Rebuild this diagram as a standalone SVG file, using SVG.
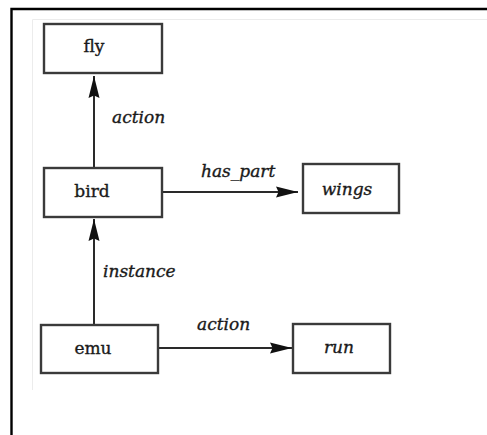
<svg xmlns="http://www.w3.org/2000/svg" width="487" height="435" viewBox="0 0 487 435">
  <style>
    .box { fill: #ffffff; stroke: #3a3a3a; stroke-width: 2.4; }
    .lbl { font-family: "DejaVu Serif", "Liberation Serif", serif; font-size: 17px; fill: #1a1a1a; stroke: #1a1a1a; stroke-width: 0.35; }
    .it { font-style: italic; }
    .edge { stroke: #2a2a2a; stroke-width: 2; fill: none; }
  </style>
  <defs>
    <marker id="head" viewBox="0 0 22 12" refX="22" refY="6" markerWidth="22" markerHeight="12" markerUnits="userSpaceOnUse" orient="auto">
      <path d="M0,0.5 L22,6 L0,11.5 L2.5,6 Z" fill="#111111"/>
    </marker>
  </defs>

  <!-- page frame -->
  <rect x="0" y="0" width="487" height="435" fill="#ffffff"/>
  <path d="M11.5,435 V9 H487" fill="none" stroke="#000000" stroke-width="2.4"/>
  <path d="M32.5,390 V19.5 H487" fill="none" stroke="#ececec" stroke-width="1"/>

  <!-- connectors -->
  <g id="connectors">
    <line class="edge" x1="94" y1="168" x2="94" y2="76" marker-end="url(#head)"/>
    <line class="edge" x1="162" y1="192" x2="298" y2="192" marker-end="url(#head)"/>
    <line class="edge" x1="94" y1="325" x2="94" y2="219" marker-end="url(#head)"/>
    <line class="edge" x1="158" y1="348" x2="292" y2="348" marker-end="url(#head)"/>
    <text class="lbl it" x="112" y="123">action</text>
    <text class="lbl it" x="201" y="177">has_part</text>
    <text class="lbl it" x="103" y="277">instance</text>
    <text class="lbl it" x="197" y="330">action</text>
  </g>

  <!-- nodes -->
  <g id="fly">
    <rect class="box" x="44" y="24" width="118" height="49"/>
    <text class="lbl" x="94" y="52" text-anchor="middle">fly</text>
  </g>
  <g id="bird">
    <rect class="box" x="44" y="168" width="118" height="49"/>
    <text class="lbl" x="92" y="197" text-anchor="middle">bird</text>
  </g>
  <g id="wings">
    <rect class="box" x="303" y="164" width="96" height="49"/>
    <text class="lbl it" x="347" y="195" text-anchor="middle">wings</text>
  </g>
  <g id="emu">
    <rect class="box" x="41" y="325" width="117" height="48"/>
    <text class="lbl" x="93" y="354" text-anchor="middle">emu</text>
  </g>
  <g id="run">
    <rect class="box" x="293" y="324" width="97" height="49"/>
    <text class="lbl it" x="339" y="353" text-anchor="middle">run</text>
  </g>
</svg>
